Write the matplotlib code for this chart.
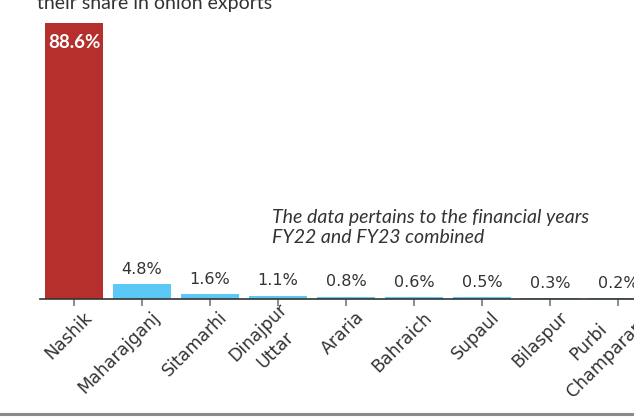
import matplotlib
matplotlib.use("Agg")
import matplotlib.pyplot as plt
import matplotlib.transforms as mtransforms
from matplotlib.lines import Line2D

districts = ["Nashik", "Maharajganj", "Sitamarhi", "Dinajpur\nUttar", "Araria",
             "Bahraich", "Supaul", "Bilaspur", "Purbi\nChamparan"]
shares = [88.6, 4.8, 1.6, 1.1, 0.8, 0.6, 0.5, 0.3, 0.2]
labels = ["88.6%", "4.8%", "1.6%", "1.1%", "0.8%", "0.6%", "0.5%", "0.3%", "0.2%"]
title = "their share in onion exports"
note = "The data pertains to the financial years\nFY22 and FY23 combined"

W, H = 634, 418
fig = plt.figure(figsize=(W / 100, H / 100), dpi=100)
fig.patch.set_facecolor("white")

# axes: x from 40px to 634px, baseline at 299px, top (88.6) at 23px
left, right = 40, 634
base, top = 299, 23
ax = fig.add_axes([left / W, (H - base) / H, (right - left) / W, (base - top) / H])
ax.set_xlim(-0.5, 8.235)
ax.set_ylim(0, 88.6)

colors = ["#b52f2c"] + ["#5bc8f5"] * (len(shares) - 1)
x = list(range(len(shares)))
ax.bar(x, shares, width=0.86, color=colors, zorder=2)

for spine in ["top", "right", "left"]:
    ax.spines[spine].set_visible(False)
ax.spines["bottom"].set_color("#333333")
ax.spines["bottom"].set_linewidth(1.2)
ax.set_yticks([])
ax.set_xticks(x)
ax.tick_params(axis="x", length=5, width=1.2, color="#777777", pad=2)
ax.set_xticklabels(districts, rotation=45, ha="right", va="center",
                   rotation_mode="anchor", fontsize=12.5, color="#333333",
                   family="DejaVu Sans", multialignment="center", linespacing=1.45)
offset = mtransforms.ScaledTranslation(15 / 100, -6 / 100, fig.dpi_scale_trans)
for lbl in ax.get_xticklabels():
    lbl.set_transform(lbl.get_transform() + offset)

for i, (v, t) in enumerate(zip(shares, labels)):
    if i == 0:
        ax.text(i, v - 3.5, t, ha="center", va="top", color="white",
                fontsize=13.5, fontweight="bold", family="Lato")
    else:
        ax.text(i, v + 2.3, t, ha="center", va="bottom", color="#333333",
                fontsize=11.5, family="DejaVu Sans")

fig.text(272 / W, 1 - 243 / H, note, ha="left", va="baseline", fontsize=14,
         style="italic", color="#333333", family="Lato", linespacing=1.2)
fig.text(37 / W, 1 - 9 / H, title, ha="left", va="baseline", fontsize=14,
         color="#333333", family="Lato")

fig.add_artist(Line2D([0, 1], [1 - 414 / H, 1 - 414 / H], transform=fig.transFigure,
                      color="#8a8a8a", linewidth=2.2))

fig.savefig("out.png", dpi=100, facecolor="white")
